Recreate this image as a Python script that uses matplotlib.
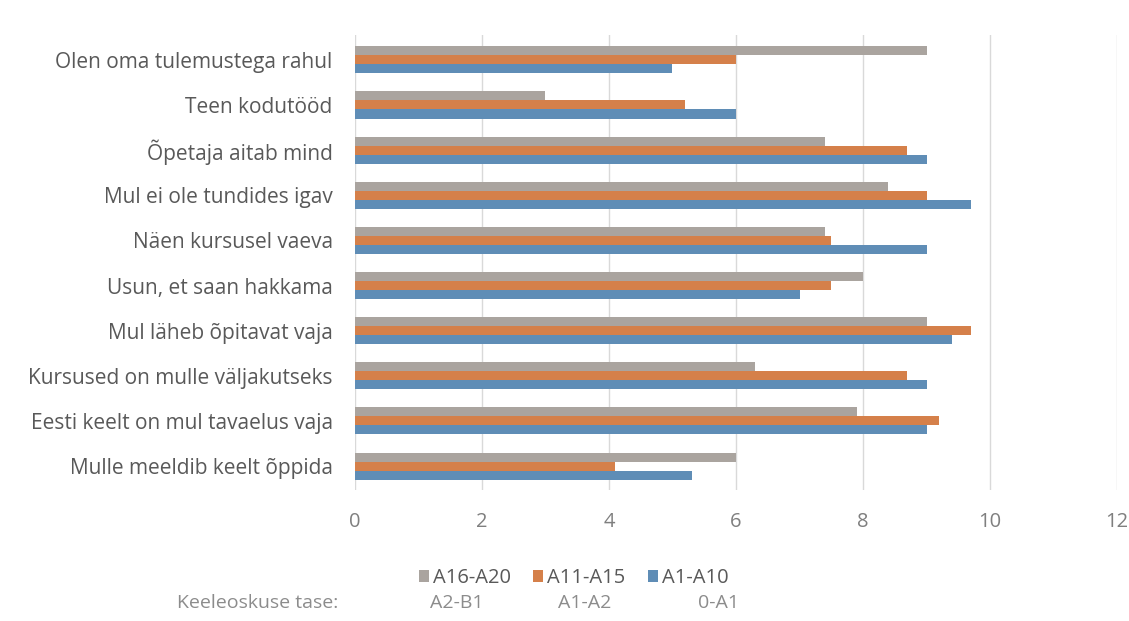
import numpy as np
import matplotlib.pyplot as plt

categories = [
    "Olen oma tulemustega rahul",
    "Teen kodutööd",
    "Õpetaja aitab mind",
    "Mul ei ole tundides igav",
    "Näen kursusel vaeva",
    "Usun, et saan hakkama",
    "Mul läheb õpitavat vaja",
    "Kursused on mulle väljakutseks",
    "Eesti keelt on mul tavaelus vaja",
    "Mulle meeldib keelt õppida",
]

a16_a20 = [9.0, 3.0, 7.4, 8.4, 7.4, 8.0, 9.0, 6.3, 7.9, 6.0]
a11_a15 = [6.0, 5.2, 8.7, 9.0, 7.5, 7.5, 9.7, 8.7, 9.2, 4.1]
a1_a10 = [5.0, 6.0, 9.0, 9.7, 9.0, 7.0, 9.4, 9.0, 9.0, 5.3]

series_names = ["A16-A20", "A11-A15", "A1-A10"]
levels = ["A2-B1", "A1-A2", "0-A1"]
colors = ["#aaa49f", "#d5804a", "#5f8db6"]

plt.rcParams['font.family'] = ['Open Sans', 'DejaVu Sans']

fig = plt.figure(figsize=(11.29, 6.21), dpi=100)
ax = fig.add_axes([0.3144, 0.211, 0.675, 0.7326])

y = np.arange(len(categories))
h = 0.2
bars = []
for k, vals in enumerate([a16_a20, a11_a15, a1_a10]):
    b = ax.barh(y + (k - 1) * h, vals, height=h, color=colors[k],
                label=series_names[k])
    bars.append(b)

ax.set_xlim(0, 12)
ax.set_ylim(9.53, -0.55)
ax.set_xticks(np.arange(0, 13, 2))
ax.set_yticks(y)
ax.set_yticklabels(categories)

ax.grid(axis='x', color='#d9d9d9', linewidth=1)
ax.set_axisbelow(True)
for s in ax.spines.values():
    s.set_visible(False)
ax.tick_params(axis='y', length=0, pad=16, labelsize=15, labelcolor='#595959')
ax.tick_params(axis='x', length=0, pad=16, labelsize=14.5, labelcolor='#7f7f7f')

fig.legend(handles=bars, labels=series_names, ncol=3, loc='center',
           bbox_to_anchor=(0.508, 0.069), frameon=False, fontsize=14.5,
           handlelength=0.5, handleheight=0.5, handletextpad=0.2,
           columnspacing=1.1, labelcolor='#595959', borderpad=0.2)

fig.text(0.157, 0.029, "Keeleoskuse tase:", fontsize=14, color='#8c8c8c',
         va='center', ha='left')
for txt, xpos in zip(levels, [0.405, 0.518, 0.636]):
    fig.text(xpos, 0.029, txt, fontsize=14, color='#8c8c8c',
             va='center', ha='center')

fig.savefig("out.png", dpi=100, facecolor='white')
